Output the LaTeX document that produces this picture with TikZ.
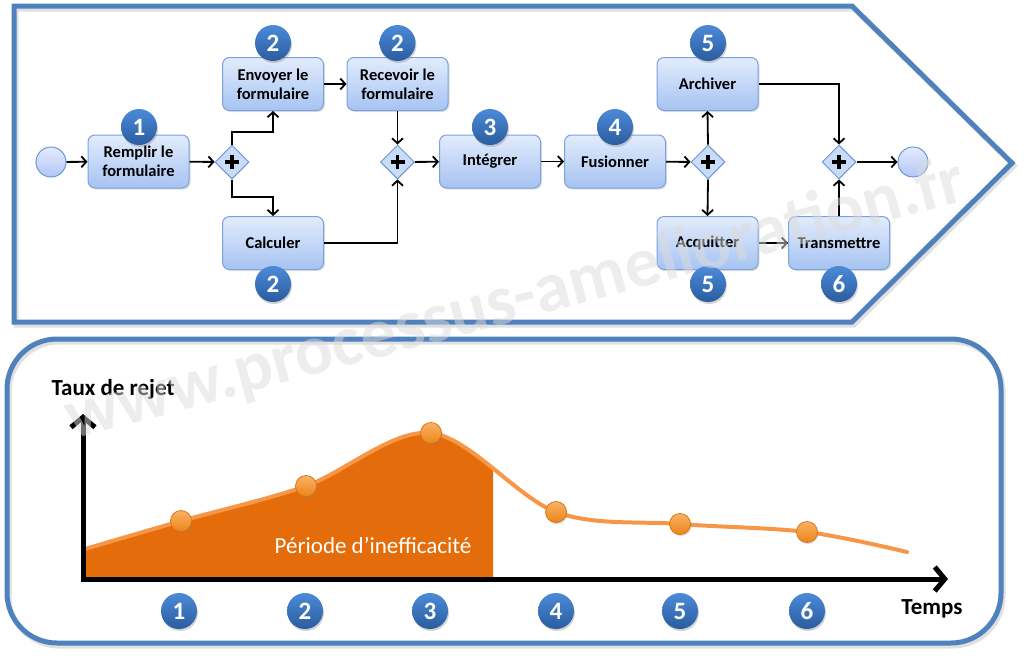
\documentclass[tikz,border=0pt]{standalone}
\usepackage{fontspec}
\setmainfont{Carlito}
\usetikzlibrary{arrows.meta,shapes.geometric,shadows,calc}
\definecolor{frameblue}{HTML}{4F81BD}
\definecolor{taskTop}{HTML}{E2ECFC}
\definecolor{taskBot}{HTML}{A6C3F2}
\definecolor{taskBorder}{HTML}{7BA2DC}
\definecolor{gwFill}{HTML}{C8DBF7}
\definecolor{gwBorder}{HTML}{6C97D4}
\definecolor{badgeTop}{HTML}{4C8AD8}
\definecolor{badgeBot}{HTML}{2A5C9F}
\definecolor{orFill}{HTML}{E46C0A}
\definecolor{orLine}{HTML}{F79646}
\definecolor{ptTop}{HTML}{FBB263}
\definecolor{ptBot}{HTML}{EB8519}
\definecolor{ptBorder}{HTML}{D9761A}
\definecolor{wmGray}{HTML}{DCDCDC}
\begin{document}
\begin{tikzpicture}[x=1pt,y=-1pt,
  frameline/.style={draw=frameblue, line width=5pt, line join=miter},
  frameshadow/.style={draw=black, line width=5pt, opacity=0.12, line join=miter},
  taskbox/.style={draw=taskBorder, line width=1pt, rounded corners=7pt,
    top color=taskTop, bottom color=taskBot, minimum width=101pt, minimum height=53pt,
    inner sep=2pt, align=center, font=\fontsize{16.5}{19}\selectfont\bfseries,
    drop shadow={shadow xshift=1.5pt, shadow yshift=-1.5pt, opacity=0.25}},
  gateway/.style={diamond, aspect=1, minimum width=34pt, minimum height=34pt, inner sep=0pt,
    draw=gwBorder, line width=1pt, fill=gwFill,
    path picture={
      \draw[line width=3.2pt, black] ([xshift=-7pt]path picture bounding box.center) -- ([xshift=7pt]path picture bounding box.center);
      \draw[line width=3.2pt, black] ([yshift=-7pt]path picture bounding box.center) -- ([yshift=7pt]path picture bounding box.center);}},
  eventc/.style={circle, minimum size=30pt, inner sep=0pt, draw=gwBorder, line width=1pt,
    top color=taskTop, bottom color=gwFill!90!blue},
  badge/.style={circle, minimum size=36pt, inner sep=0pt, top color=badgeTop, bottom color=badgeBot,
    text=white, font=\fontsize{25}{25}\selectfont\bfseries,
    drop shadow={shadow xshift=1pt, shadow yshift=-2pt, opacity=0.35}},
  flow/.style={draw=black, line width=1.8pt, -{Straight Barb[length=5pt,width=11pt]}},
  axisline/.style={draw=black, line width=5pt, -{Straight Barb[length=10pt,width=24pt]}},
  curveline/.style={draw=orLine, line width=4pt, line cap=round},
  point/.style={circle, minimum size=21pt, inner sep=0pt, draw=ptBorder, line width=0.8pt,
    top color=ptTop, bottom color=ptBot,
    drop shadow={shadow xshift=1pt, shadow yshift=-1.5pt, opacity=0.3}},
  axislabel/.style={font=\fontsize{23}{23}\selectfont\bfseries, text=black},
]
\useasboundingbox (0,0) rectangle (1024,657);

% frames
\draw[frameshadow] (16,9) -- (854,9) -- (1014,166) -- (854,325) -- (16,325) -- cycle;
\draw[frameshadow, rounded corners=50pt] (9,342) rectangle (1003,646);
\draw[frameline] (14,6) -- (852,6) -- (1012,163) -- (852,322) -- (14,322) -- cycle;
\draw[frameline, rounded corners=50pt] (7,339) rectangle (1001,643);

% process nodes
\node[eventc] (start) at (51,162) {};
\node[taskbox] (remplir) at (138.5,161.5) {Remplir le\\formulaire};
\node[gateway] (g1) at (232,162) {};
\node[taskbox] (envoyer) at (273,84) {Envoyer le\\formulaire};
\node[taskbox] (calculer) at (273,243) {Calculer};
\node[taskbox] (recevoir) at (397.5,84) {Recevoir le\\formulaire};
\node[gateway] (g2) at (397.5,162) {};
\node[taskbox] (integrer) at (490,161.5) {Intégrer};
\node[taskbox] (fusionner) at (615,161.5) {Fusionner};
\node[gateway] (g3) at (708,162) {};
\node[taskbox] (archiver) at (707.5,84) {Archiver};
\node[taskbox] (acquitter) at (707.5,243) {Acquitter};
\node[taskbox] (transmettre) at (839,243) {Transmettre};
\node[gateway] (g4) at (839,162) {};
\node[eventc] (end) at (913,162) {};

% connectors
\draw[flow] (start) -- (remplir);
\draw[flow] (remplir) -- (g1);
\draw[flow] (g1.north) |- ([yshift=-21pt]envoyer.south) -- (envoyer.south);
\draw[flow] (g1.south) |- ([yshift=19pt]calculer.north) -- (calculer.north);
\draw[flow] (envoyer) -- (recevoir);
\draw[flow] (recevoir.south) -- (g2.north);
\draw[flow] (calculer.east) -| (g2.south);
\draw[flow] (g2) -- (integrer);
\draw[flow] (integrer) -- (fusionner);
\draw[flow] (fusionner) -- (g3);
\draw[flow] (g3.north) -- (archiver.south);
\draw[flow] (g3.south) -- (acquitter.north);
\draw[flow] (archiver.east) -| (g4.north);
\draw[flow] (acquitter) -- (transmettre);
\draw[flow] (transmettre.north) -- (g4.south);
\draw[flow] (g4) -- (end);

% badges (process)
\node[badge] (b1) at (139,127) {1};
\node[badge] (b2a) at (273,43) {2};
\node[badge] (b2b) at (273,284) {2};
\node[badge] (b2c) at (397.5,43) {2};
\node[badge] (b3) at (490,127) {3};
\node[badge] (b4) at (615,127) {4};
\node[badge] (b5a) at (708,43) {5};
\node[badge] (b5b) at (708,284) {5};
\node[badge] (b6) at (839,284) {6};

% chart
\begin{scope}
  \clip (83,300) rectangle (493,579);
  \fill[orFill] (85,579) -- plot[smooth,tension=0.55] coordinates {(85,549) (181,521) (306,486) (431,433) (556,512) (680,524) (807,532) (907,552)} -- (907,579) -- cycle;
\end{scope}
\draw[curveline] plot[smooth,tension=0.55] coordinates {(85,549) (181,521) (306,486) (431,433) (556,512) (680,524) (807,532) (907,552)};
\node[font=\fontsize{23}{23}\selectfont, text=white] (periode) at (373,545) {Période d’inefficacité};

\coordinate (O) at (83,579);
\coordinate (ytip) at (83,414);
\coordinate (xtip) at (948,579);
\draw[axisline] (O) -- (ytip);
\draw[axisline] ([xshift=-2.5pt]O) -- (xtip);

\node[point] (p1) at (181,521) {};
\node[point] (p2) at (306,486) {};
\node[point] (p3) at (431,433) {};
\node[point] (p4) at (556,512) {};
\node[point] (p5) at (680,524) {};
\node[point] (p6) at (807,532) {};

\node[axislabel] (taux) at (113,389) {Taux de rejet};
\node[axislabel] (temps) at (932,609) {Temps};

\node[badge] (c1) at (179,611) {1};
\node[badge] (c2) at (305,611) {2};
\node[badge] (c3) at (430,611) {3};
\node[badge] (c4) at (556,611) {4};
\node[badge] (c5) at (680,611) {5};
\node[badge] (c6) at (807,611) {6};

% watermark
\node[anchor=base west, rotate=15, inner sep=0pt, text=wmGray, text opacity=0.5,
  font=\fontsize{71}{71}\selectfont\bfseries] (wm) at (72,440) {www.processus-amelioration.fr};
\end{tikzpicture}
\end{document}
